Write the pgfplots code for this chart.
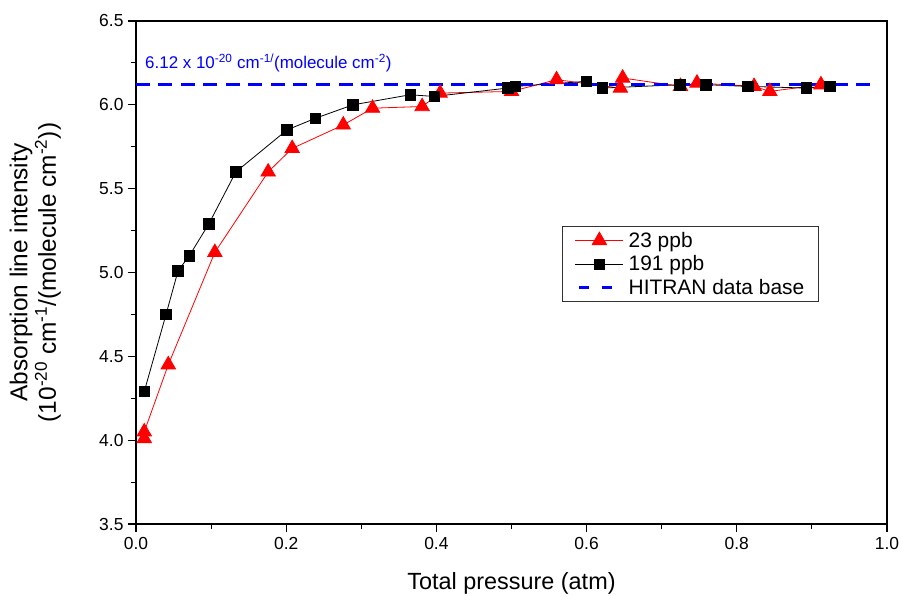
\documentclass[border=0pt]{standalone}
\usepackage{pgfplots}
\pgfplotsset{compat=1.18}
\usepackage{fontspec}
\setmainfont{Liberation Sans}

\begin{document}
\begin{tikzpicture}
\begin{axis}[
  name=ax,
  scale only axis,
  width=751bp, height=503bp,
  xmin=0, xmax=1.0, ymin=3.5, ymax=6.5,
  xtick={0,0.2,...,1.0}, ytick={3.5,4.0,...,6.5},
  minor tick num=1,
  xtick pos=bottom, ytick pos=left,
  tick align=outside,
  major tick length=8bp, minor tick length=5bp,
  axis line style={line width=1.3bp},
  every tick/.style={black, line width=1.1bp},
  /pgf/number format/assume math mode=true,
  /pgf/number format/.cd, fixed, fixed zerofill, precision=1, /pgfplots/.cd,
  tick label style={font=\fontsize{17.5}{20}\selectfont},
  xticklabel style={yshift=-2bp},
  yticklabel style={xshift=-1bp},
  xlabel={Total pressure (atm)},
  xlabel style={font=\fontsize{23.5}{27}\selectfont, at={(axis description cs:0.5,-0.119)}, anchor=center},
  ylabel={Absorption line intensity\\(10\textsuperscript{-20} cm\textsuperscript{-1}/(molecule cm\textsuperscript{-2}))},
  ylabel style={font=\fontsize{24.5}{28.5}\selectfont, align=center, at={(axis description cs:-0.134,0.5)}, anchor=center},
  legend cell align=left,
  legend style={at={(axis description cs:0.909,0.592)}, anchor=north east,
    font=\fontsize{21}{26}\selectfont, draw=black!80, line width=0.8bp,
    inner xsep=12bp, inner ysep=2bp,
    nodes={inner ysep=3.5bp},
    /tikz/every odd column/.append style={column sep=2bp}},
  legend image code/.code={\draw[mark repeat=2,mark phase=2,#1] plot coordinates {(0bp,0bp) (24bp,0bp) (48bp,0bp)};},
]
% 23 ppb series
\addplot[red, line width=0.8bp, mark=triangle*, mark size=8.3bp, mark options={fill=red, draw=red, solid}]
  coordinates {
  (0.011,4.01) (0.011,4.05) (0.043,4.45) (0.105,5.12) (0.176,5.60)
  (0.208,5.74) (0.276,5.88) (0.315,5.98) (0.381,5.99) (0.405,6.07)
  (0.500,6.08) (0.560,6.15) (0.645,6.10) (0.648,6.16) (0.725,6.11)
  (0.747,6.13) (0.823,6.11) (0.844,6.08) (0.912,6.12)
  };
\addlegendentry{23 ppb}
% 191 ppb series
\addplot[black, line width=0.8bp, mark=square*, mark size=5.2bp, mark options={fill=black, solid}]
  coordinates {
  (0.011,4.29) (0.040,4.75) (0.056,5.01) (0.071,5.10) (0.097,5.29)
  (0.133,5.60) (0.201,5.85) (0.239,5.92) (0.289,6.00) (0.365,6.06)
  (0.397,6.05) (0.495,6.10) (0.505,6.11) (0.600,6.14) (0.621,6.10)
  (0.724,6.12) (0.759,6.12) (0.815,6.11) (0.893,6.10) (0.924,6.11)
  };
\addlegendentry{191 ppb}
% HITRAN reference value
\addplot[blue, line width=2.6bp, dash pattern=on 14bp off 8.5bp, forget plot]
  coordinates {(0.0,6.12) (0.98,6.12)};
\addlegendimage{blue, line width=2.6bp, dash pattern=on 10bp off 13bp, dash phase=-4bp}
\addlegendentry{HITRAN data base}
\node[anchor=west, blue, font=\fontsize{17}{20}\selectfont, inner sep=0pt]
  at (axis cs:0.012,6.25) {6.12 x 10\textsuperscript{-20} cm\textsuperscript{-1/}(molecule cm\textsuperscript{-2})};
\end{axis}
\pgfresetboundingbox
\path ([xshift=-136bp,yshift=-72bp]ax.south west) rectangle ([xshift=15bp,yshift=21bp]ax.north east);
\end{tikzpicture}
\end{document}
